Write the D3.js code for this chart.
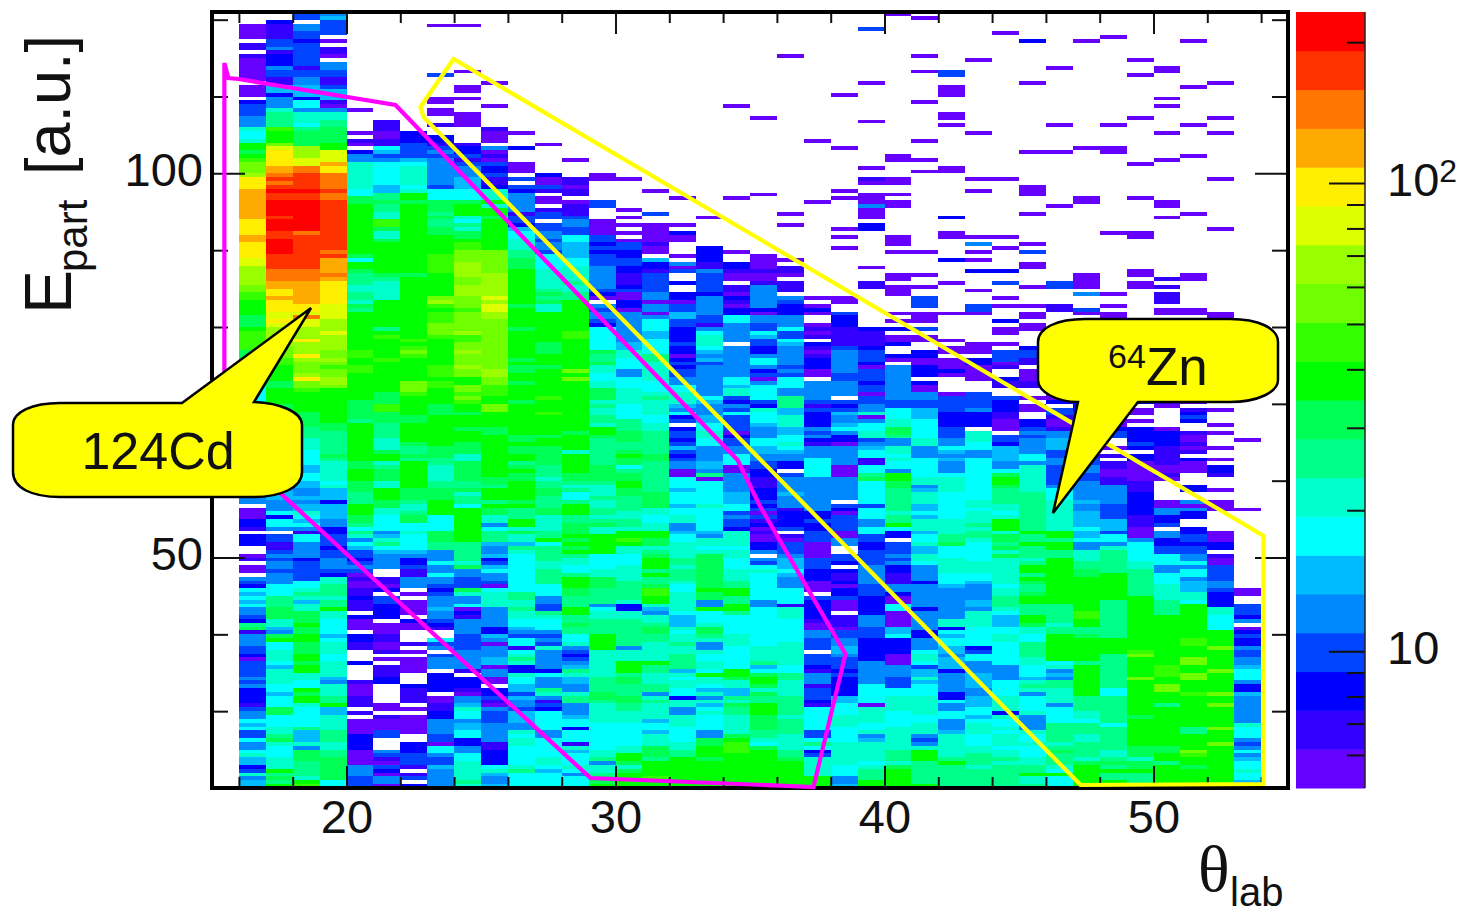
<!DOCTYPE html>
<html>
<head>
<meta charset="utf-8">
<script src="https://d3js.org/d3.v7.min.js"></script>
<style>
  html, body { margin: 0; padding: 0; background: #fff; }
  svg { display: block; }
  text { font-family: "Liberation Sans", Arial, sans-serif; fill: #111; }
</style>
</head>
<body>
<script>
// bands of the colour palette, bottom of the colour bar to the top
var bandColours = ["#6600ff","#3300ff","#0000ff","#0044ff","#0088ff","#00bbff","#00ffff","#00ffcc","#00ff88","#00ff55",
                   "#00ff00","#33ff00","#70ff00","#99ff00","#ddff00","#ffee00","#ffaa00","#ff7700","#ff3300","#ff0000"];
// counts per band centre, letters a..t in the columns below index this
var bandCounts = [5.6,6.8,8.2,9.9,12,14.5,17.6,21,26,31,38,46,55,67,81,98,119,144,174,211];

var thetaStart = [16];      // first bin edge, bins are 1 wide
var energyTop = [121];      // first bin edge, bins are 0.5 high, going down

// one string per theta bin. chunks are 20 energy bins (10 units), read from the top. "-" is an empty chunk, . is an empty bin
var thetaBins = [
"...aaaa.bb.baaaaaa.a aa.cdddeeehgghkkjklm mmnpppqqqqqqqqppppqq ppppoonnnnnmmllkkkkj jjkllllljjjhhhgghhgg ggghhhggffggffeeffee eeddeeee.aaaccb.ccc. .ab.aa.edcgfgfgeedci jbeeeddcaddddedecccc bdeegfgddgeeghffcdhe ff",
"..cbbbbddebccceddbbf fceeehiiiilkkkmopppp qqrsrstssttttstttsst tttssssrrrqqppqpppoo ponnnnnmmmllkkkkjjkk kkjjjjiiihhhggffggff ffeefffeeegcgge.ddbb dedeedeeegggiiijjjhh fejkgghhhgfhhhhggfgg gjjggghhijhggghhhkij ik",
"dd.eeddcddddddbddeef ffcggehhhgijjjjnnnoo rrsssstssttttttttrss sssssssrrrqqqqqqppor oonnnpnnnpnmmmnpmmlk kkkkjjjjiiihhhggggff ggffeefeffhgfgebggee eecdddddgghihfhhjjjk jjkkjjjkkjkkhhggkjkk hgggggifffhejjjiiiih kl",
"efdddd.a.bba.eeddbbd fffbaehhiijjjjkkoooq pprrrrsrrsssssssssss ssrsqqqqrqppppppoooo nnnonnnnmmnmlmmnnmkk kkkkkkkjjiiiiiijihhh hhghfffcffffeeccdddc ddeeedchhiiihiikhhgg ggfghhhgghhhhfehhhii kffhhhhiiihhiijjjjjj gg",
"- .....a.....a.ba.ceeh hhhhhhggjjkkkkkkkkkk kkkjgkkjiiihhiihjikk kkkkkkkkllkkllkkkkkk kjjjjjikkkkkkkkkkjjk kkjjjiiikkkjjigihegf ddcdedabaabbcbbb.caa a.ccbb...c....baaabb b.b.aaaaccccaaaaeeed dd",
"- ........bbbaabbgfdeg gggggffiijiihhlljhhj kkkkkkkkjihhhhhkkkkk kkiklkkkkklkkkkkkkkj jjlljjjiiiihhhjkkhij jjhhkkkjjhhggggefhig feeee..bbac.ddcccc.a aabbaab.a.bbbcc..... aa.baaadd...edbadcae ea",
"- ...........cccddddfg hhhhhghkkjkkkkkkkkkk kkkkkkkkjkkkkkkkkkkk kkkkklklmlkkkkkkmmml kkkkkjjkkkkkjiijikkk kkkkjjjihhijjgghgggg feccdbbeee.a.aaaa.ca a...b.a.aaaa...cbbbb .a.aaaaa..cccdddb.bd .c",
"...a............d... ..aa.aa..b..ccbdedee eeeeedgggjjjijiijjkk kkklllllkkkkkkmnlkll lmmmlkkkkkkklllkllkk kkjjjkkkkkkkkjjjiihh hhiijjjkkkkggggjjjii eeegeegeedcdeeefeedc b..gde.deee.ccccc.aa bbcceeeeddaggeddfeee ee",
"...a...........a...a a.a...aaaa....bccdbd eeefffgggjkkkhgihjjk llmmmnnnnmmnnnmmmlmm mmmnllmmnmmmnmmkkmml mlkkjkkkjkkkjjjhhjjj jjiijhiigkkkkkkkkkii iiihjeedddjheegacbee eeddddeeeeeb.cccbaee fhggeffggcceegghhhhh ih",
"..................a. ....a.....baaa.eabad ccdbbchhhkhkkjkkkkkk kkmmmmmmnnnnnnonoonn mmmmmmmmmmmmmnnmmlll kkmmkkkkjjkkkkkkkkkk kjjikkkikjjhhegiiife efcdfgeedaghhhheeeee ccfeaeeeffaeeaa.ccdb aedddeeeeebbccccghfe ef",
"- ...........a...c...a aa.d.dceeeeebddcfggh hhiijjjkkkkkkkkkjkkk kkjkkkkkkkjkjjkkjkkk kjkkkkkkkkjjkjjkkijk jjkkkkkjkiiikkhjhhfi hggggggggggiihhihhgg fedggbghihcchggffdfe edfffeehghhggggghigg gg",
"- ..............a..... ..caadb.aa.bdd.ddeed eedgggghhhhhijijhhkk kkkkkkjjjkkkjkkkkkkk lkkklkkkkkjkkjjjjjii ihiijjiiijjhhhhiikgi iiihhiiiigggeeddihgg gededheeeeecgeeeiheb dcgggggeeggggghhgfgg gg",
"- ..................a. ...bbabb.abbbdeeddgg ffffgghhhhihhiikkkkk kkkllkkkkkkkkmkmkkkk kkkkkkkkkjkkkkhkkkkk jjihiggikkkiijjjkjkj kihhggikkkjjiiikkiij iigghedcdefihffeehii eeefggcgggbhfggghgeg gg",
"- - ..aa.....dd...aaaadd cdcdddeeeeeedca.edee dcggggggjiijhhgghhjj jhihhiihkkjiiiiiiijj jjihhhihhiihijhhkkkk kgggghhjjjiiiieghhii iikkkkhhhhhhhiiiijji hhhhhggggggghhiehhij jk",
"- - ...a.......a.a.a.a.a ddccddccbbbcdaaccaee eeeeeeffhhgggeeggghh hhggggiiijjjiijkjjgi jjkkjjiiiihhiihkklkh hggghhhhiiiiihcchhii iiiiiehhhkkkijjiiijj iihhhgggggghhkkjhjkk kk",
"- - ......a.....d..aaaaa baa.fccbdddddeeaeeae gggffggggiihhhhhgggh ihhhhgghhiiiiiijjiii iiiiijjjjhhgghhkkjjh ijkkkikiijllkkhfehhi jjiihhhhhkiihhhiiehi hhhhfggfhhhjjjikkkkl kk",
"- - ........a......a.caa ...a.ead..c..ccaddff ddccccdccacdcddeeggh hhfegcd.cddcdfdcdeea agggfgggfgghheefgghh hhiihiiihgghhhhhgfff hghhihhiiiifhghhggch heehhhgggghhiikkkkkk kk",
"- - .............a...... .ccccbbedddddceeeeed dbeghhhgfefdeeeeeeee gfeeeffgghhggeeeeffe iagggggghggggggfehhg hjjjjjjjjjkjjeekgggh jjiheehgghhgkhhgfheh fghggggeejjkkkjkkkkk kk",
"- ....a............... ........a........... ..a..ccbaa.bbacbaccg geeeee.eeeeeeeeggfhh dcedgddddacddeegggaa eeeeefffggdeddchhhhg hhggghhhiikkiikkiggg gghhhggggggkkjhhffih jiihhhhhjklllkkkkkkk kk",
"- .......a............ .......a............ ...aaaabaabeeeeeecae eddgfddcceggecdaeggg gdchgggfeeeggffeeddc cbbbcccdcdadbcabaacc e.edghgggggggeeggggg ggggghhhhifgjkkjhjii kkkjjjjiihgjkkkkkkkk kk",
"...........a........ - ............a..a.... ....a.bba.bbb.edccce eegddgfeeeeededgggee iiiffhhhffgghgfeecc. deeeefeeebccccd.badd defffgfeeeggggbhhhgg gggghhhhhhggiihhhhii iiihiiiihhhhiijkkkkk kk",
"- .............a...... .........a.......... ..............a.aca. .abab.cbabcccaa.eeee edbdccccedecbeeegggg geeeeeeeeeccdccdddaa aadddcccaaa.dcccccba aeeddd.dddcbeeebdddc bggggggddgigcdhhhhhk kk",
"- .a.............a.... ......a.a.......a.a. .a............aa..dc ccbbbbbdeeeeeeddeeee .dcdfeefgeccaeeeeeaa aeeeeee.dcaddddaaee. .ddc.cbbcaccdaaa.bbb addeeffedddcdcccccff ggghhhgggghhhhhhggge ef",
"....d.............a. ........a........... a..ba..aaaeaaa.cc... ......a...bb........ ..cbbbbcdddcadddcdda ddeehaegghhdefggbbgg ijggggggdgggeeggddcc ddddeeeeedddccccceee dddcccccceeeeeeggggg ahhhhgghefhhhhhghiii kk",
"a................... .................aa. ...aa..a.aa.......aa a.a.....aa.aaa....a. a.c.aac..ca.eeeeeeee eddggghhjjieehhghgge kkjjiiiiiihiikgcc.dd dedeccbbbeecaaggaaaa ffgccccaaaeeedddgghh hhgggghhhhhhiiihjkkk kk",
".a.........a...a.... ...a.........a....a. .a.................. ..a.....a..a..ddd.aa a.d.aa..ccaaccc.caae eddfffggggghheeegggg ghhefhhhffgfhhhfgghf fhhgeeeeceeeeeeceeee ecceeeghhgdffhfggghh hhhgghhhedehkkkiiiii ik",
"...............dd..a aa....aa.a.......... aa...........c...aa. ....c.....a.......a. .....a.aa.aaaca....a ddddccccdddeegfefeee ghhhhggggggghhhhiijg gghhhhgggfeeeeeeeehh cgfggffefffceeeeeccg eeggeeefhhhhhhikiiii ii",
"............a....... ...........a........ ...a..a...........a. e.a.a..c....a...dda. ......aaa.ccaaaa...d dddecccc.hhhggeegggg ggggggghhghhhihiihgg ggghhhggfeeeeffehhhh gggggcdggeeeffffeeff fggfghhhggghhiiihiii ii",
".....a.............. - ...a..............a. .a.....c..d...a.a... c.aa..a.dddab..cbb.. dcccbbaaa.ddcffffeeg jkkjiiiihhghkkkhjjij hjhhhhhhhghhiiihgfff gghhggggggeeeegggghh hhchgghghhhghhihiiii ii",
".......c..........a. ................a... .....aaa....a....... a.d..aa....a....a.aa .aa....cddbb.aaabb.. a.aa..ccdedeeeeggehh hhhhhiiiiiiiiiikiiki iihikkikjiijkkiiikkj hhggiiiihhgggfhihegg ggheeeehgghggghhiikh hi",
"..............a..... .........a......a... ..........a......... ..........dd....bb.. ..aabbcdcaa.bbcc.aaa ac.ddbaabeefffddeedd dddeggghhhhhhhhkkikk iikkkkkkkkkkkkiiiiih iikkkkkkkghefeiihhhh eggggiiiiihijiiihgkg gg",
".......a............ ...............a.... ........aa.......... ........aaaa.e...da. aa.a.aac.cc.aabbaabb acccddcbdd.ababbddee ddeeeeefeeffffgffgee hhhiijjkkkkkkkkkllkk iijkkkkkkikkkkkkkkii iihhgiiihhiiiihjkkkk kk",
"......a............. .........a.....aa... .................a.. .............a..a.aa a.bbaac...cc.aab.b.. bbcc.aaacdd..a.b.bba abbeeeeeddddfffdggeh iiiiiikkkkkkkiiiiiii iiikkkkiiiiiiiiiggii iiiiigiiiiiihhijikii kk",
"............a...a... .......a...........a ........a........aa. .......aa.aa........ .a.a.ab.bbaa..bb.cbb ac.aa.a.ccccdc.ccaaa aabbbccccccbbbaaaegg ggghhiiiiiiikkkkkkkk kkkkkklmkkkkkmkkkkkk kkkjkkkkkkkjjjhjjkii ii",
"..............aa.... ..a.a......a......a. .........aa..a...... .........b.b.bbb.aa. a.aabb.cab.a..bbaa.a aba.....accccbbbbbaa ba.....aaeeccd.eeccd dgggeeggghhhhiiiikkk kkkkkkkkkklllkkmmkkk ikkkkkkkkkkjjkkikkkk kk",
".......a...........a .........a.......a.. ............a....... ........aa.......aa. a.bb.aabbc.aa.bbaa.c .a.bcdc..baabab.caaa ...cc..eaecc..ccddcd deegeggefffhhgkkkkkk kkkllkkkmmkkmmkkklkk kkkkkkiikkkkmlkkjkkk kk",
"..................a. .......a...a........ ...a............a... ..................aa a.....ab.ab.aa.a...a ...a...a.a...a..a.cc b...a..aaa.....aaacc .baaddddeedcccchhggg gkkkkmkkkkkmkkkkkmkk mkkkkkmkkkmkkkkkkkkk kk",
"- - - - - ...........a........ .........a.......... ..........aa..dddce. acdcceddeefgggeccfee eeeeehgggedegefgghgg ff"
];

var xMajor = [20, 30, 40, 50];
var xMinor = [16, 18, 22, 24, 26, 28, 32, 34, 36, 38, 42, 44, 46, 48, 52, 54];
var yMajor = [50, 100];
var yMinor = [30, 40, 60, 70, 80, 90, 110, 120];
var barMajor = [10, 100];
var barMinor = [6, 7, 8, 9, 20, 30, 40, 50, 60, 70, 80, 90, 200];

// gates drawn on the plot, in axis units
var cdGateTheta = [15.46,15.61,15.99,21.82,34.54,35.35,38.55,37.36,29.07,17.62,15.46];
var cdGateEnergy = [114.36,112.41,112.28,108.9,62.69,56.83,37.44,20.13,21.3,58.14,65.3];
var znGateTheta = [23.98,22.75,22.86,47.29,54.09,54.09,53.42];
var znGateEnergy = [114.88,108.64,107.34,20.39,20.52,52.8,54.23];

var w = 1472, h = 916;
var left = 212, right = 1288, top_ = 12, bottom = 788;
var barLeft = 1296, barRight = 1365;

var x = d3.scaleLinear().domain([15, 55]).range([left, right]);
var y = d3.scaleLinear().domain([20, 121]).range([bottom, top_]);
var barY = d3.scaleLog().domain([5.1, 232]).range([bottom, top_]);
var colour = d3.scaleQuantize().domain([Math.log10(5.1), Math.log10(232)]).range(bandColours);

// unpack the strings into one record per filled bin
var cells = [];
thetaBins.forEach(function(col, i){
  var chunks = col.split(" ");
  var rows = "";
  chunks.forEach(function(c, k){
    var size = k == 10 ? 2 : 20;
    rows += (c == "-" ? "" : c).padEnd(size, c == "-" ? "." : c.slice(-1)).slice(0, size);
  });
  for (var j = 0; j < rows.length; j++) {
    if (rows[j] == ".") continue;
    cells.push({
      theta: thetaStart[0] + i,
      energy: energyTop[0] - j * 0.5,
      count: bandCounts[rows.charCodeAt(j) - 97]
    });
  }
});

var svg = d3.select("body").append("svg").attr("width", w).attr("height", h);

svg.append("g")
  .style("filter", "blur(0.5px)")
  .selectAll("rect")
  .data(cells)
  .enter()
  .append("rect")
  .attr("x", function(d){ return x(d.theta); })
  .attr("y", function(d){ return y(d.energy); })
  .attr("width", function(d){ return x(d.theta + 1) - x(d.theta); })
  .attr("height", function(d){ return y(d.energy - 0.5) - y(d.energy); })
  .attr("fill", function(d){ return colour(Math.log10(d.count)); })
  .attr("shape-rendering", "crispEdges");

// axes, all ticks point into the frame
function drawAxis(axis, tx, ty, size, values, labels, pad, fontSize) {
  var g = svg.append("g")
    .attr("transform", "translate(" + tx + "," + ty + ")")
    .call(axis.tickValues(values).tickSize(-size).tickSizeOuter(0).tickPadding(pad)
      .tickFormat(labels ? null : function(){ return ""; }));
  g.select(".domain").remove();
  g.selectAll("line").attr("stroke", "#111").attr("stroke-width", 2);
  g.selectAll("text").attr("font-size", fontSize).style("font-family", '"Liberation Sans", Arial, sans-serif').attr("fill", "#111");
  return g;
}

drawAxis(d3.axisBottom(x), 0, bottom, 11, xMinor, false, 0, 0);
drawAxis(d3.axisBottom(x), 0, bottom, 22, xMajor, true, 12, 47);
drawAxis(d3.axisTop(x), 0, top_, 11, xMinor, false, 0, 0);
drawAxis(d3.axisTop(x), 0, top_, 22, xMajor, false, 0, 0);
drawAxis(d3.axisLeft(y), left, 0, 16, yMinor, false, 0, 0);
var yLabels = drawAxis(d3.axisLeft(y), left, 0, 33, yMajor, true, 9, 47);
yLabels.selectAll("text").attr("dy", "0.26em");
drawAxis(d3.axisRight(y), right, 0, 16, yMinor, false, 0, 0);
drawAxis(d3.axisRight(y), right, 0, 33, yMajor, false, 0, 0);

svg.append("rect")
  .attr("x", left).attr("y", top_)
  .attr("width", right - left).attr("height", bottom - top_)
  .attr("fill", "none").attr("stroke", "#000").attr("stroke-width", 4);

// gates
var gateLine = d3.line()
  .x(function(d){ return x(d[0]); })
  .y(function(d){ return y(d[1]); })
  .curve(d3.curveLinearClosed);

svg.append("path")
  .attr("d", gateLine(d3.zip(cdGateTheta, cdGateEnergy)))
  .attr("fill", "none").attr("stroke", "#ff00ff").attr("stroke-width", 4.2);
svg.append("path")
  .attr("d", gateLine(d3.zip(znGateTheta, znGateEnergy)))
  .attr("fill", "none").attr("stroke", "#ffff00").attr("stroke-width", 4.2);

// colour bar
svg.append("g").selectAll("rect")
  .data(bandCounts)
  .enter()
  .append("rect")
  .attr("x", barLeft)
  .attr("width", barRight - barLeft)
  .attr("y", function(d, i){ return bottom - (i + 1) * (bottom - top_) / bandCounts.length; })
  .attr("height", (bottom - top_) / bandCounts.length + 0.5)
  .attr("fill", function(d){ return colour(Math.log10(d)); });

drawAxis(d3.axisRight(barY), barRight, 0, 18, barMinor, false, 0, 0);
var barAxis = drawAxis(d3.axisRight(barY), barRight, 0, 36, barMajor, true, 22, 47);
barAxis.selectAll("text")
  .attr("dy", "0.26em")
  .text("10")
  .filter(function(d){ return d == 100; })
  .append("tspan")
  .attr("dy", "-0.42em")
  .attr("font-size", 32)
  .text("2");
svg.append("line")
  .attr("x1", barRight).attr("x2", barRight)
  .attr("y1", top_).attr("y2", bottom)
  .attr("stroke", "#222").attr("stroke-width", 1.5);

// callouts
svg.append("path")
  .attr("d", "M182,403 L311,308 L254,402 C280,403 302,412 302,425 L302,472 C302,488 280,497 254,497 L60,497 C32,497 13,488 13,472 L13,425 C13,412 32,403 60,403 Z")
  .attr("fill", "#ffff00").attr("stroke", "#000").attr("stroke-width", 2.5);
svg.append("path")
  .attr("d", "M1078,402 L1053,513 L1138,402 L1230,402 C1258,402 1278,392 1278,380 L1278,342 C1278,328 1258,319 1230,319 L1085,319 C1057,319 1038,328 1038,342 L1038,380 C1038,392 1057,402 1078,402 Z")
  .attr("fill", "#ffff00").attr("stroke", "#000").attr("stroke-width", 2.5);

svg.append("text").attr("x", 158).attr("y", 469).attr("text-anchor", "middle").attr("font-size", 52).text("124Cd");
svg.append("text").attr("x", 1108).attr("y", 368).attr("font-size", 34).text("64");
svg.append("text").attr("x", 1146).attr("y", 385).attr("font-size", 53).text("Zn");

// axis titles
svg.append("text").attr("x", 1198).attr("y", 891).attr("font-size", 66).style("font-family", '"Liberation Serif", serif').text("θ");
svg.append("text").attr("x", 1230).attr("y", 906).attr("font-size", 40).text("lab");

svg.append("text").attr("transform", "translate(71,314) rotate(-90)").attr("font-size", 66).text("E");
svg.append("text").attr("transform", "translate(87,272) rotate(-90)").attr("font-size", 42).text("part");
svg.append("text").attr("transform", "translate(70,175) rotate(-90)").attr("font-size", 63).text("[a.u.]");
</script>
</body>
</html>
